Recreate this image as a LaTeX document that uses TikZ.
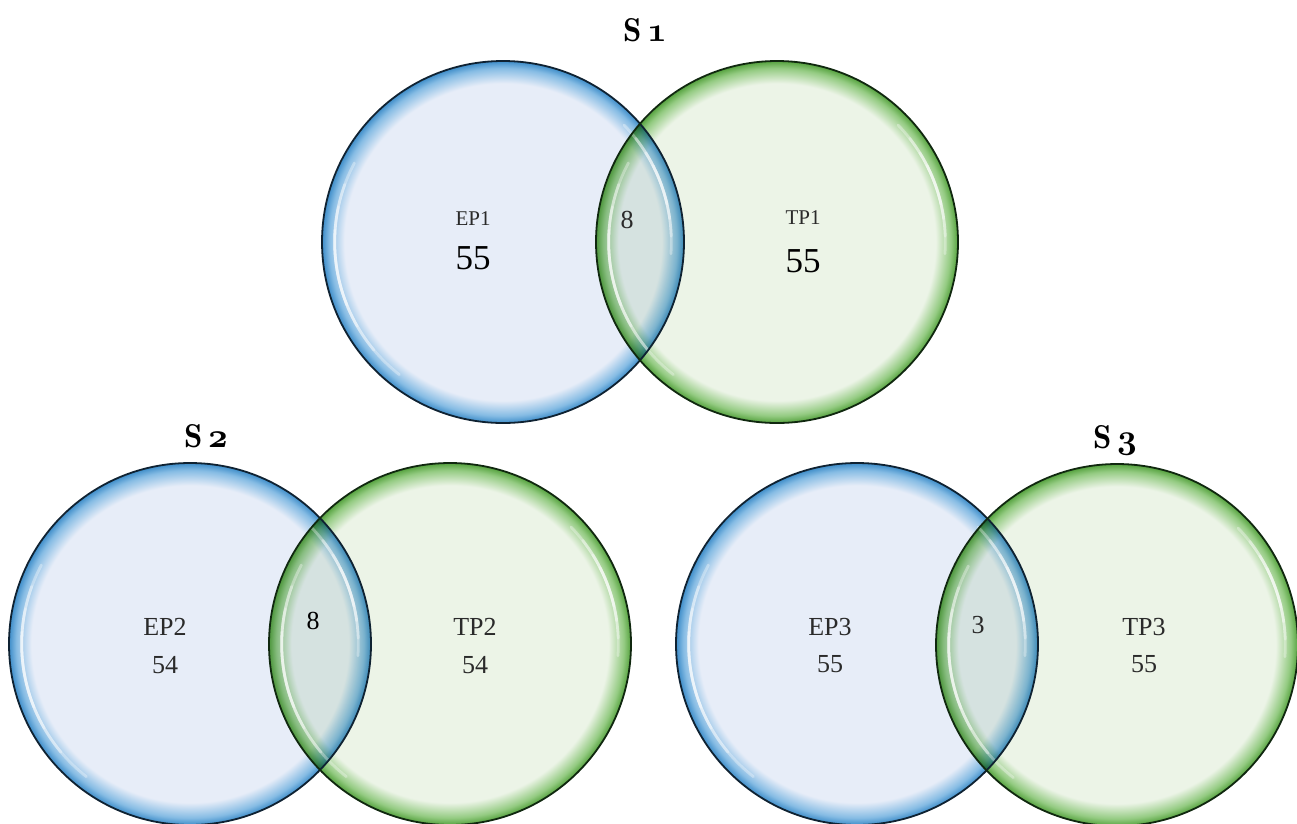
\documentclass[tikz,border=0pt]{standalone}
\usepackage{fontspec}
\setmainfont{Liberation Serif}
\definecolor{bfill}{HTML}{E7EDF8}
\definecolor{brim}{HTML}{86BCE4}
\definecolor{bdark}{HTML}{3E8DC9}
\definecolor{bline}{HTML}{0F2232}
\definecolor{gfill}{HTML}{ECF4E7}
\definecolor{grim}{HTML}{94CB82}
\definecolor{gdark}{HTML}{55A23E}
\definecolor{gline}{HTML}{10280F}
\definecolor{txt}{HTML}{2A2A2A}
\pgfdeclareradialshading{bluering}{\pgfpoint{0bp}{0bp}}{color(0bp)=(bfill); color(21.9bp)=(bfill); color(24bp)=(brim); color(25bp)=(bdark)}
\pgfdeclareradialshading{greenring}{\pgfpoint{0bp}{0bp}}{color(0bp)=(gfill); color(21.9bp)=(gfill); color(24bp)=(grim); color(25bp)=(gdark)}
\tikzset{
  bluec/.style={shading=bluering},
  greenc/.style={shading=greenring},
  bout/.style={draw=bline, line width=1.8pt},
  gout/.style={draw=gline, line width=1.8pt},
  gloss/.style={draw=white, line width=2.8pt, line cap=round, opacity=0.33},
  lab/.style={text=txt, inner sep=0pt, font=\fontsize{21}{24}\selectfont},
  labbig/.style={text=black, inner sep=0pt, font=\fontsize{35}{40}\selectfont},
  labmid/.style={text=txt, inner sep=0pt, font=\fontsize{26}{30}\selectfont},
  ttl/.style={inner sep=0pt, font=\fontsize{33}{40}\fontfamily{lmr}\bfseries\selectfont}
}
\newcommand\osnum[1]{\scalebox{1.38}{\fontsize{24.88}{30}\usefont{OML}{cmm}{b}{it}#1}}
\begin{document}
\begin{tikzpicture}[x=1pt,y=-1pt]
\useasboundingbox (0,0) rectangle (1297,823);
\fill[white] (0,0) rectangle (1297,823);
% circle centres
\coordinate (b1) at (503,242);
\coordinate (g1) at (777,242);
\coordinate (b2) at (190,644);
\coordinate (g2) at (450,644);
\coordinate (b3) at (857,644);
\coordinate (g3) at (1117,645);
\def\R{181}
% fills
\foreach \b/\g in {b1/g1,b2/g2,b3/g3}{
  \shade[bluec] (\b) circle (\R);
  \shade[greenc] (\g) circle (\R);
  \begin{scope}[blend mode=multiply]
    \clip (\g) circle (\R);
    \shade[bluec] (\b) circle (\R);
  \end{scope}
}
% glossy highlights
\foreach \c in {b1,g1,b2,g2,b3,g3}{
  \foreach \a/\e in {128/208,140/200,150/192,158/184}{
    \draw[gloss] (\c) ++(\a:0.93*\R) arc (\a:\e:0.93*\R);
  }
  \foreach \a/\e in {4/-44,-2/-38,-8/-32,-13/-27}{
    \draw[gloss] (\c) ++(\a:0.93*\R) arc (\a:\e:0.93*\R);
  }
}
% outlines
\foreach \c in {b1,b2,b3}{\draw[bout] (\c) circle (\R);}
\foreach \c in {g1,g2,g3}{\draw[gout] (\c) circle (\R);}
% titles
\node[ttl] (t1) at (645,30) {S\,\osnum{1}};
\node[ttl] (t2) at (206,436) {S\,\osnum{2}};
\node[ttl] (t3) at (1115,440) {S\,\osnum{3}};
% S1 labels
\node[lab] (ep1) at (473,219) {EP1};
\node[labbig] (ep1n) at (473,258) {55};
\node[labmid] (i1) at (627,220) {8};
\node[lab] (tp1) at (803,218) {TP1};
\node[labbig] (tp1n) at (803,261) {55};
% S2 labels
\node[labmid] (ep2) at (165,627) {EP2};
\node[labmid] (ep2n) at (165,665) {54};
\node[labmid,text=black] (i2) at (313,621) {8};
\node[labmid] (tp2) at (475,627) {TP2};
\node[labmid] (tp2n) at (475,665) {54};
% S3 labels
\node[labmid] (ep3) at (830,627) {EP3};
\node[labmid] (ep3n) at (830,664) {55};
\node[labmid] (i3) at (978,625) {3};
\node[labmid] (tp3) at (1144,627) {TP3};
\node[labmid] (tp3n) at (1144,664) {55};
\end{tikzpicture}
\end{document}
